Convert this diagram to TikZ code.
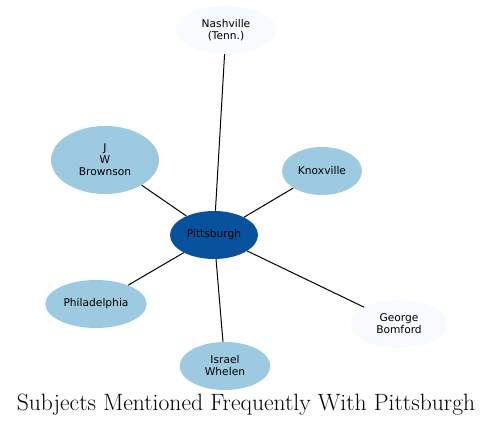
\documentclass[tikz,border=0pt]{standalone}
\usepackage{fontspec}
\usepackage{tikz}
\usetikzlibrary{shapes.geometric}
\newfontfamily\nodefont{DejaVu Sans}
\definecolor{hubblue}{HTML}{08519C}
\definecolor{midblue}{HTML}{9ECAE1}
\definecolor{paleblue}{HTML}{F7FBFF}

\begin{document}
\begin{tikzpicture}[
  x=0.75pt, y=-0.75pt,
  subj/.style={ellipse, inner sep=0pt, align=center, minimum height=36pt,
    font=\nodefont\fontsize{8}{9}\selectfont},
  edge/.style={draw, line width=0.75pt}
]
\useasboundingbox (0,0) rectangle (493,427);
\node[subj, fill=hubblue, minimum width=66pt] (pitt) at (214,235) {Pittsburgh};
\node[subj, fill=paleblue, minimum width=75pt] (nash) at (226,30) {Nashville\\(Tenn.)};
\node[subj, fill=midblue, minimum width=81pt, minimum height=51pt] (brown) at (105,160) {J\\W\\Brownson};
\node[subj, fill=midblue, minimum width=60pt] (knox) at (322,171) {Knoxville};
\node[subj, fill=midblue, minimum width=76pt] (phil) at (96,304) {Philadelphia};
\node[subj, fill=paleblue, minimum width=72pt] (bomf) at (399,324) {George\\Bomford};
\node[subj, fill=midblue, minimum width=68pt] (whel) at (225,366) {Israel\\Whelen};
\node[font=\fontsize{17.7}{20}\selectfont] (title) at (246,405) {Subjects Mentioned Frequently With Pittsburgh};
\draw[edge] (pitt) -- (nash);
\draw[edge] (pitt) -- (brown);
\draw[edge] (pitt) -- (knox);
\draw[edge] (pitt) -- (phil);
\draw[edge] (pitt) -- (bomf);
\draw[edge] (pitt) -- (whel);
\end{tikzpicture}
\end{document}
